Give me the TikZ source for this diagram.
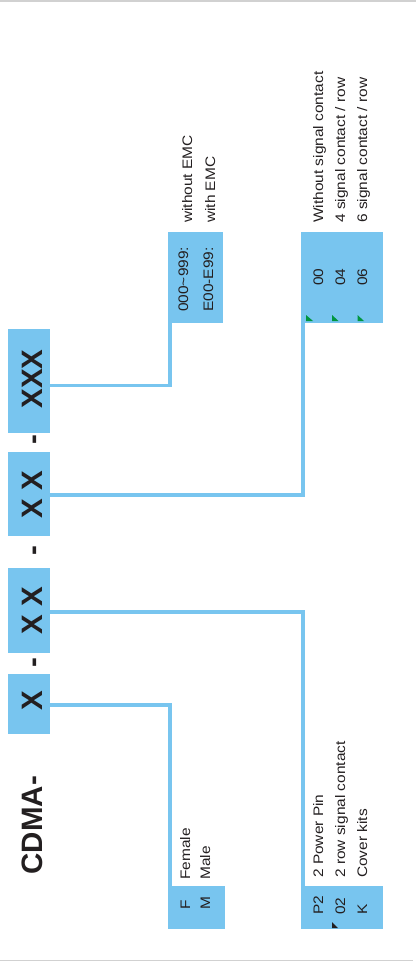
\documentclass[tikz,border=0pt]{standalone}
\usepackage{fontspec}
\setmainfont{Liberation Sans}
\newfontfamily\smallfont{Liberation Sans}[FakeStretch=1.12]
\definecolor{boxblue}{RGB}{120,197,239}
\definecolor{ink}{RGB}{35,31,32}
\definecolor{errgreen}{RGB}{0,150,64}
\begin{document}
\begin{tikzpicture}[x=1pt,y=-1pt,
  bigbox/.style={fill=boxblue, draw=none, inner sep=0pt, rectangle},
  infobox/.style={fill=boxblue, draw=none, inner sep=0pt, rectangle},
  conn/.style={draw=boxblue, line width=3.6pt, line join=miter},
  code/.style={rotate=90, anchor=base, inner sep=0pt, text=ink, font=\bfseries\fontsize{29.5}{30}\selectfont},
  small/.style={rotate=90, anchor=base west, inner sep=0pt, text=ink, font=\smallfont\fontsize{13.8}{16}\selectfont},
  frameline/.style={draw=black!18, line width=1.4pt}
]
\useasboundingbox (0,0) rectangle (416,965);
\draw[frameline] (0,1) -- (416,1);
\draw[frameline] (0,960.5) -- (413,960.5);

% code boxes
\node[bigbox, minimum width=42pt, minimum height=104pt] (b3) at (29,381) {};
\node[bigbox, minimum width=42pt, minimum height=84pt] (b2) at (29,494) {};
\node[bigbox, minimum width=42pt, minimum height=85pt] (b1) at (29,610.5) {};
\node[bigbox, minimum width=42pt, minimum height=60pt] (b0) at (29,704) {};

% info boxes
\node[infobox, minimum width=55pt, minimum height=91pt] (emc) at (195.5,277.5) {};
\node[infobox, minimum width=82pt, minimum height=91pt] (sig) at (342,277.5) {};
\node[infobox, minimum width=57pt, minimum height=43pt] (fm) at (196.5,907.5) {};
\node[infobox, minimum width=82pt, minimum height=43pt] (p2) at (342,907.5) {};

% connectors
\draw[conn] ([yshift=-4.5pt]b3.east) -| ([xshift=2pt]emc.south west);
\draw[conn] ([yshift=-1pt]b2.east) -| ([xshift=2pt]sig.south west);
\draw[conn] ([yshift=-1.5pt]b1.east) -| ([xshift=2pt]p2.north west);
\draw[conn] ([yshift=-1pt]b0.east) -| ([xshift=2pt]fm.north west);

% code texts
\node[code] (t3) at (42,379) {XXX};
\node[code] (t2) at (42,494.5) {X X};
\node[code] (t1) at (42,610.5) {X X};
\node[code] (t0) at (42,701) {X};
\node[code] (h3) at (42,440) {-};
\node[code] (h2) at (42,550.5) {-};
\node[code] (h1) at (42,662.5) {-};
\node[code, anchor=base west] (cdma) at (42,874.5) {CDMA-};

% EMC
\node[small] (l1) at (188,312) {000\textasciitilde 999:};
\node[small] (l2) at (213,312) {E00-E99:};
\node[small] (d1) at (192,223) {without EMC};
\node[small] (d2) at (215,223) {with EMC};

% signal
\node[small] (s0) at (323,286) {00};
\node[small] (s4) at (345,286) {04};
\node[small] (s6) at (367,286) {06};
\node[small] (ds0) at (323,223) {Without signal contact};
\node[small] (ds4) at (345,223) {4 signal contact / row};
\node[small] (ds6) at (367,223) {6 signal contact / row};

% F / M
\node[small] (f) at (190,910) {F};
\node[small] (m) at (210,910) {M};
\node[small] (fe) at (190,880) {Female};
\node[small] (ma) at (210,880) {Male};

% P2 / 02 / K
\node[small] (p) at (323,915) {P2};
\node[small] (z) at (345,915) {02};
\node[small] (k) at (367,915) {K};
\node[small] (pp) at (323,878) {2 Power Pin};
\node[small] (rs) at (345,878) {2 row signal contact};
\node[small] (ck) at (367,878) {Cover kits};

% markers
\fill[errgreen] (306,315) -- (306,321) -- (313,321) -- cycle;
\fill[errgreen] (332,315) -- (332,321) -- (338.5,321) -- cycle;
\fill[errgreen] (357.5,315) -- (357.5,321) -- (364,321) -- cycle;
\fill[ink] (332,922) -- (332,928) -- (338,928) -- cycle;
\end{tikzpicture}
\end{document}
